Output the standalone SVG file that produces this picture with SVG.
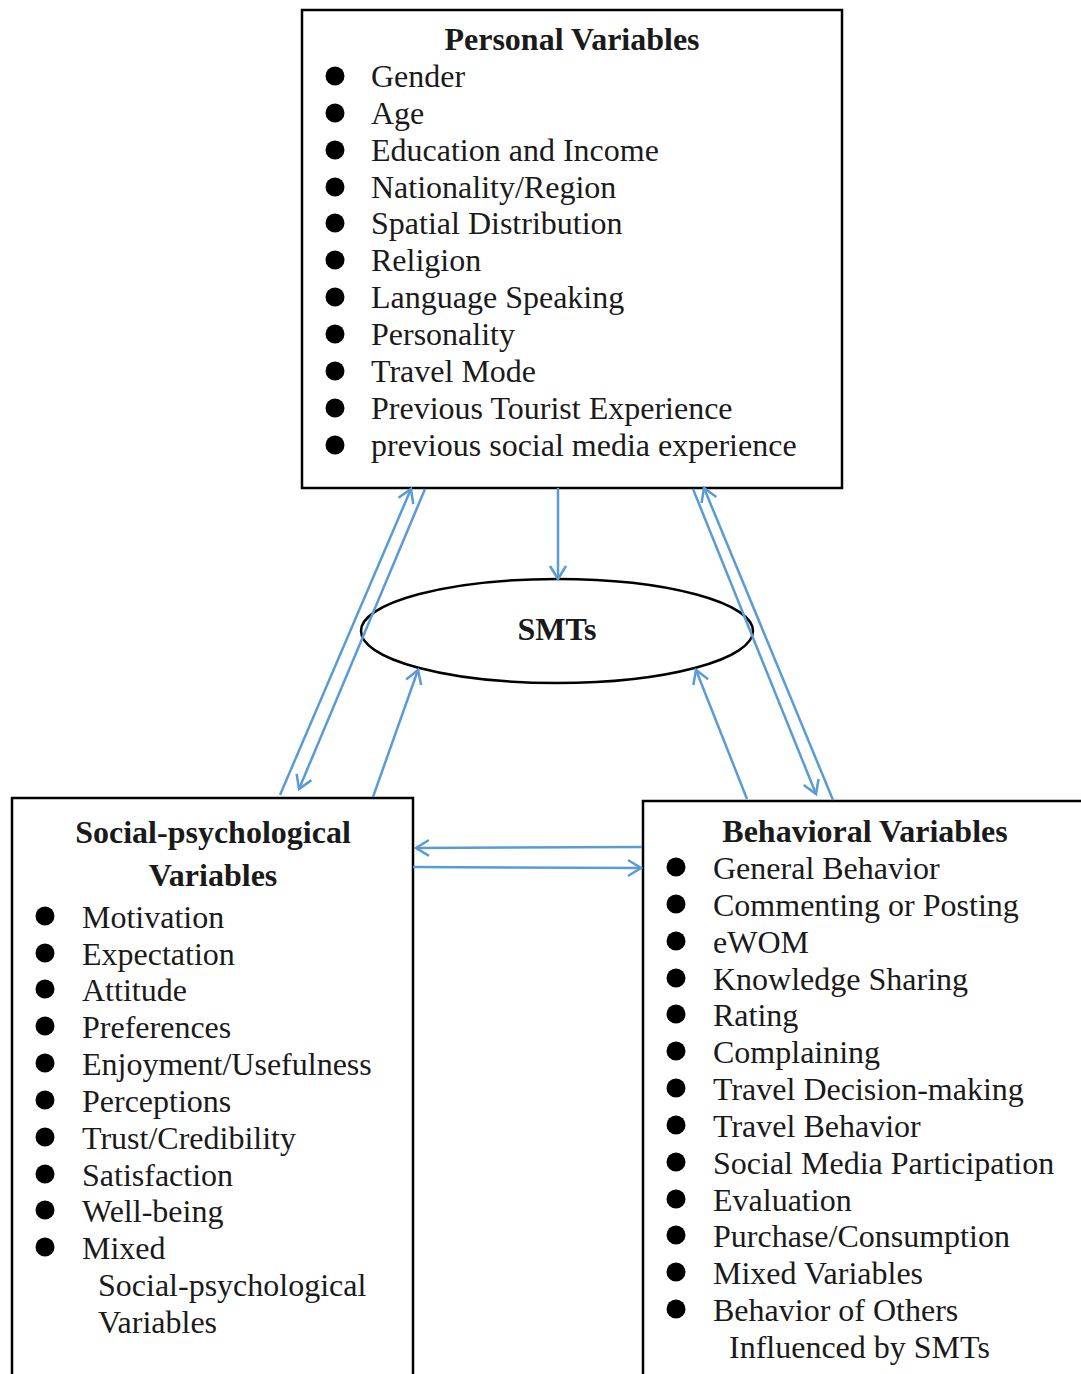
<svg xmlns="http://www.w3.org/2000/svg" width="1081" height="1374" viewBox="0 0 1081 1374">
<style>
.box{fill:#fff;stroke:#000;stroke-width:2.5}
.t{font-family:"Liberation Serif","Times New Roman",serif;font-size:32px;fill:#1a1a1a}
.h{font-family:"Liberation Serif","Times New Roman",serif;font-size:32px;font-weight:bold;fill:#1a1a1a;text-anchor:middle}
.b{fill:#000}
.c{stroke:#5B9BD5;stroke-width:2.5;fill:none;marker-end:url(#ah)}
</style>
<defs>
<marker id="ah" markerUnits="userSpaceOnUse" markerWidth="24" markerHeight="24" viewBox="-16 -12 20 24" refX="0" refY="0" orient="auto">
<path d="M-13,-8 L0,0 L-13,8" fill="none" stroke="#5B9BD5" stroke-width="2.5"/>
</marker>
</defs>
<rect width="1081" height="1374" fill="#fff"/>
<g id="personal">
<rect class="box" x="302" y="10" width="540" height="478"/>
<text class="h" x="572" y="50">Personal Variables</text>
<g class="b">
<circle cx="335" cy="76" r="9.5"/><circle cx="335" cy="113" r="9.5"/><circle cx="335" cy="150" r="9.5"/><circle cx="335" cy="187" r="9.5"/><circle cx="335" cy="223" r="9.5"/><circle cx="335" cy="260" r="9.5"/><circle cx="335" cy="297" r="9.5"/><circle cx="335" cy="334" r="9.5"/><circle cx="335" cy="371" r="9.5"/><circle cx="335" cy="408" r="9.5"/><circle cx="335" cy="445" r="9.5"/>
</g>
<text class="t" x="371" y="87">Gender</text>
<text class="t" x="371" y="124">Age</text>
<text class="t" x="371" y="161">Education and Income</text>
<text class="t" x="371" y="198">Nationality/Region</text>
<text class="t" x="371" y="234">Spatial Distribution</text>
<text class="t" x="371" y="271">Religion</text>
<text class="t" x="371" y="308">Language Speaking</text>
<text class="t" x="371" y="345">Personality</text>
<text class="t" x="371" y="382">Travel Mode</text>
<text class="t" x="371" y="419">Previous Tourist Experience</text>
<text class="t" x="371" y="456">previous social media experience</text>
</g>
<g id="smts">
<ellipse cx="557" cy="631" rx="196" ry="52" fill="#fff" stroke="#000" stroke-width="2.5"/>
<text class="h" x="557" y="640">SMTs</text>
</g>
<g id="social">
<rect class="box" x="12" y="798" width="401" height="590"/>
<text class="h" x="213" y="843">Social-psychological</text>
<text class="h" x="213" y="886">Variables</text>
<g class="b">
<circle cx="45" cy="916" r="9.5"/><circle cx="45" cy="953" r="9.5"/><circle cx="45" cy="989" r="9.5"/><circle cx="45" cy="1026" r="9.5"/><circle cx="45" cy="1063" r="9.5"/><circle cx="45" cy="1100" r="9.5"/><circle cx="45" cy="1137" r="9.5"/><circle cx="45" cy="1174" r="9.5"/><circle cx="45" cy="1210" r="9.5"/><circle cx="45" cy="1247" r="9.5"/>
</g>
<text class="t" x="82" y="928">Motivation</text>
<text class="t" x="82" y="965">Expectation</text>
<text class="t" x="82" y="1001">Attitude</text>
<text class="t" x="82" y="1038">Preferences</text>
<text class="t" x="82" y="1075">Enjoyment/Usefulness</text>
<text class="t" x="82" y="1112">Perceptions</text>
<text class="t" x="82" y="1149">Trust/Credibility</text>
<text class="t" x="82" y="1186">Satisfaction</text>
<text class="t" x="82" y="1222">Well-being</text>
<text class="t" x="82" y="1259">Mixed</text>
<text class="t" x="98" y="1296">Social-psychological</text>
<text class="t" x="98" y="1333">Variables</text>
</g>
<g id="behavioral">
<rect class="box" x="643" y="801" width="450" height="590"/>
<text class="h" x="865" y="842">Behavioral Variables</text>
<g class="b">
<circle cx="676" cy="867" r="9.5"/><circle cx="676" cy="904" r="9.5"/><circle cx="676" cy="941" r="9.5"/><circle cx="676" cy="978" r="9.5"/><circle cx="676" cy="1014" r="9.5"/><circle cx="676" cy="1051" r="9.5"/><circle cx="676" cy="1088" r="9.5"/><circle cx="676" cy="1125" r="9.5"/><circle cx="676" cy="1162" r="9.5"/><circle cx="676" cy="1199" r="9.5"/><circle cx="676" cy="1235" r="9.5"/><circle cx="676" cy="1272" r="9.5"/><circle cx="676" cy="1309" r="9.5"/>
</g>
<text class="t" x="713" y="879">General Behavior</text>
<text class="t" x="713" y="916">Commenting or Posting</text>
<text class="t" x="713" y="953">eWOM</text>
<text class="t" x="713" y="990">Knowledge Sharing</text>
<text class="t" x="713" y="1026">Rating</text>
<text class="t" x="713" y="1063">Complaining</text>
<text class="t" x="713" y="1100">Travel Decision-making</text>
<text class="t" x="713" y="1137">Travel Behavior</text>
<text class="t" x="713" y="1174">Social Media Participation</text>
<text class="t" x="713" y="1211">Evaluation</text>
<text class="t" x="713" y="1247">Purchase/Consumption</text>
<text class="t" x="713" y="1284">Mixed Variables</text>
<text class="t" x="713" y="1321">Behavior of Others</text>
<text class="t" x="729" y="1358">Influenced by SMTs</text>
</g>
<g id="connectors">
<line class="c" x1="280" y1="795" x2="411" y2="489"/>
<line class="c" x1="425" y1="489" x2="299" y2="789"/>
<line class="c" x1="373" y1="797" x2="418" y2="670"/>
<line class="c" x1="693" y1="489" x2="816" y2="794"/>
<line class="c" x1="833" y1="800" x2="704" y2="488"/>
<line class="c" x1="747" y1="799" x2="696" y2="670"/>
<line class="c" x1="642" y1="847" x2="416" y2="848"/>
<line class="c" x1="413" y1="867" x2="641" y2="868"/>
<line class="c" x1="558" y1="488" x2="558" y2="579"/>
</g>
</svg>
